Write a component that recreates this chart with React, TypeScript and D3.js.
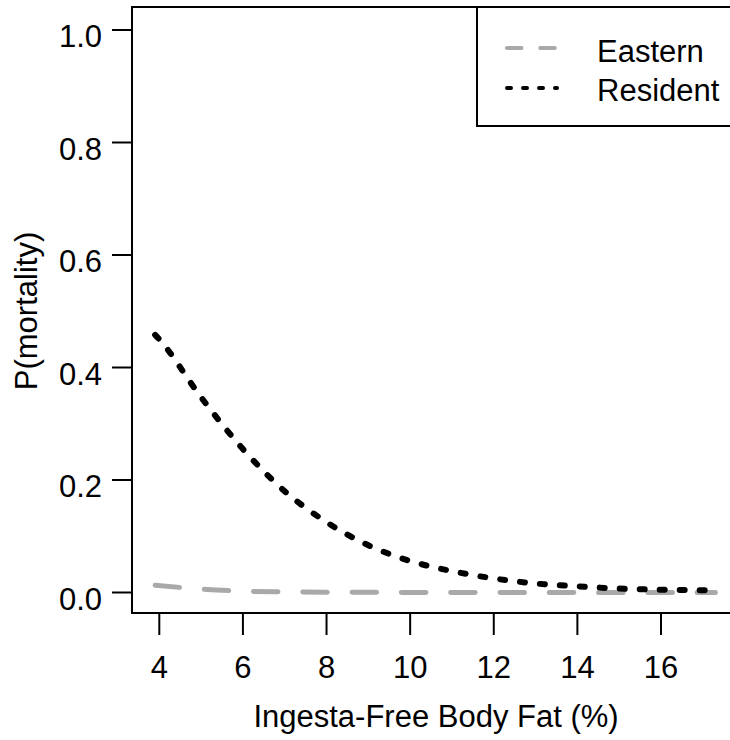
import React from "react";
import * as d3 from "d3";

const residentX = [3.9, 4, 5, 6, 7, 8, 9, 10, 11, 12, 13, 14, 15, 16, 17, 17.3];
const residentY = [0.458, 0.45, 0.347, 0.255, 0.18, 0.125, 0.084, 0.056, 0.038, 0.025, 0.016, 0.011, 0.007, 0.005, 0.004, 0.0035];

const easternX = [3.9, 4.5, 5, 5.5, 6, 7, 8, 10, 12, 14, 17.3];
const easternY = [0.013, 0.009, 0.006, 0.004, 0.0025, 0.0012, 0.0006, 0.0002, 0.0001, 0.0, 0.0];

const xTicks = [4, 6, 8, 10, 12, 14, 16];
const yTicks = [0, 0.2, 0.4, 0.6, 0.8, 1.0];
const legendLabels = ["Eastern", "Resident"];

const FONT = "'Liberation Sans', Arial, Helvetica, sans-serif";
const FS = 31;

export default function App() {
  const x = d3.scaleLinear().domain([4, 16]).range([159.3, 661]);
  const y = d3.scaleLinear().domain([0, 1]).range([592.5, 30]);
  const left = 132, top = 7, bottom = 613, right = 740;

  const line = d3
    .line<[number, number]>()
    .x((d) => x(d[0]))
    .y((d) => y(d[1]))
    .curve(d3.curveMonotoneX);

  const resPts = residentX.map((v, i) => [v, residentY[i]] as [number, number]);
  const eastPts = easternX.map((v, i) => [v, easternY[i]] as [number, number]);

  return (
    <div style={{ position: "absolute", left: 0, top: 0 }}>
      <svg width={730} height={740} style={{ display: "block", background: "#fff" }}>
        {/* plot box */}
        <rect x={left} y={top} width={right - left} height={bottom - top} fill="none" stroke="#000" strokeWidth={2} />
        {/* y axis ticks */}
        {yTicks.map((t) => (
          <g key={"y" + t}>
            <line x1={112} x2={left} y1={y(t)} y2={y(t)} stroke="#000" strokeWidth={2} />
            <text x={102} y={y(t) + 17} textAnchor="end" fontFamily={FONT} fontSize={FS} fill="#000">
              {t.toFixed(1)}
            </text>
          </g>
        ))}
        {/* x axis ticks */}
        {xTicks.map((t) => (
          <g key={"x" + t}>
            <line x1={x(t)} x2={x(t)} y1={bottom} y2={635} stroke="#000" strokeWidth={2} />
            <text x={x(t)} y={678} textAnchor="middle" fontFamily={FONT} fontSize={FS} fill="#000">
              {t}
            </text>
          </g>
        ))}
        {/* axis titles */}
        <text x={436} y={727} textAnchor="middle" fontFamily={FONT} fontSize={FS} fill="#000">
          Ingesta-Free Body Fat (%)
        </text>
        <text
          transform={`translate(37,311) rotate(-90)`}
          textAnchor="middle"
          fontFamily={FONT}
          fontSize={FS}
          fill="#000"
        >
          P(mortality)
        </text>
        {/* series */}
        <path
          d={line(eastPts) || ""}
          fill="none"
          stroke="#A9A9A9"
          strokeWidth={5}
          strokeDasharray="24.5 24.8"
          strokeLinecap="round"
        />
        <path
          d={line(resPts) || ""}
          fill="none"
          stroke="#000"
          strokeWidth={6}
          strokeDasharray="5 15"
          strokeLinecap="round"
        />
        {/* legend */}
        <rect x={477} y={top} width={right - 477} height={119} fill="#fff" stroke="#000" strokeWidth={2} />
        <line x1={507} x2={555} y1={48} y2={48} stroke="#A9A9A9" strokeWidth={4} strokeDasharray="14.5 18.8" strokeLinecap="round" />
        <line x1={507} x2={557} y1={88} y2={88} stroke="#000" strokeWidth={4} strokeDasharray="4 12" strokeLinecap="round" />
        <text x={597} y={62} fontFamily={FONT} fontSize={FS} fill="#000">{legendLabels[0]}</text>
        <text x={597} y={101} fontFamily={FONT} fontSize={FS} fill="#000">{legendLabels[1]}</text>
      </svg>
    </div>
  );
}
